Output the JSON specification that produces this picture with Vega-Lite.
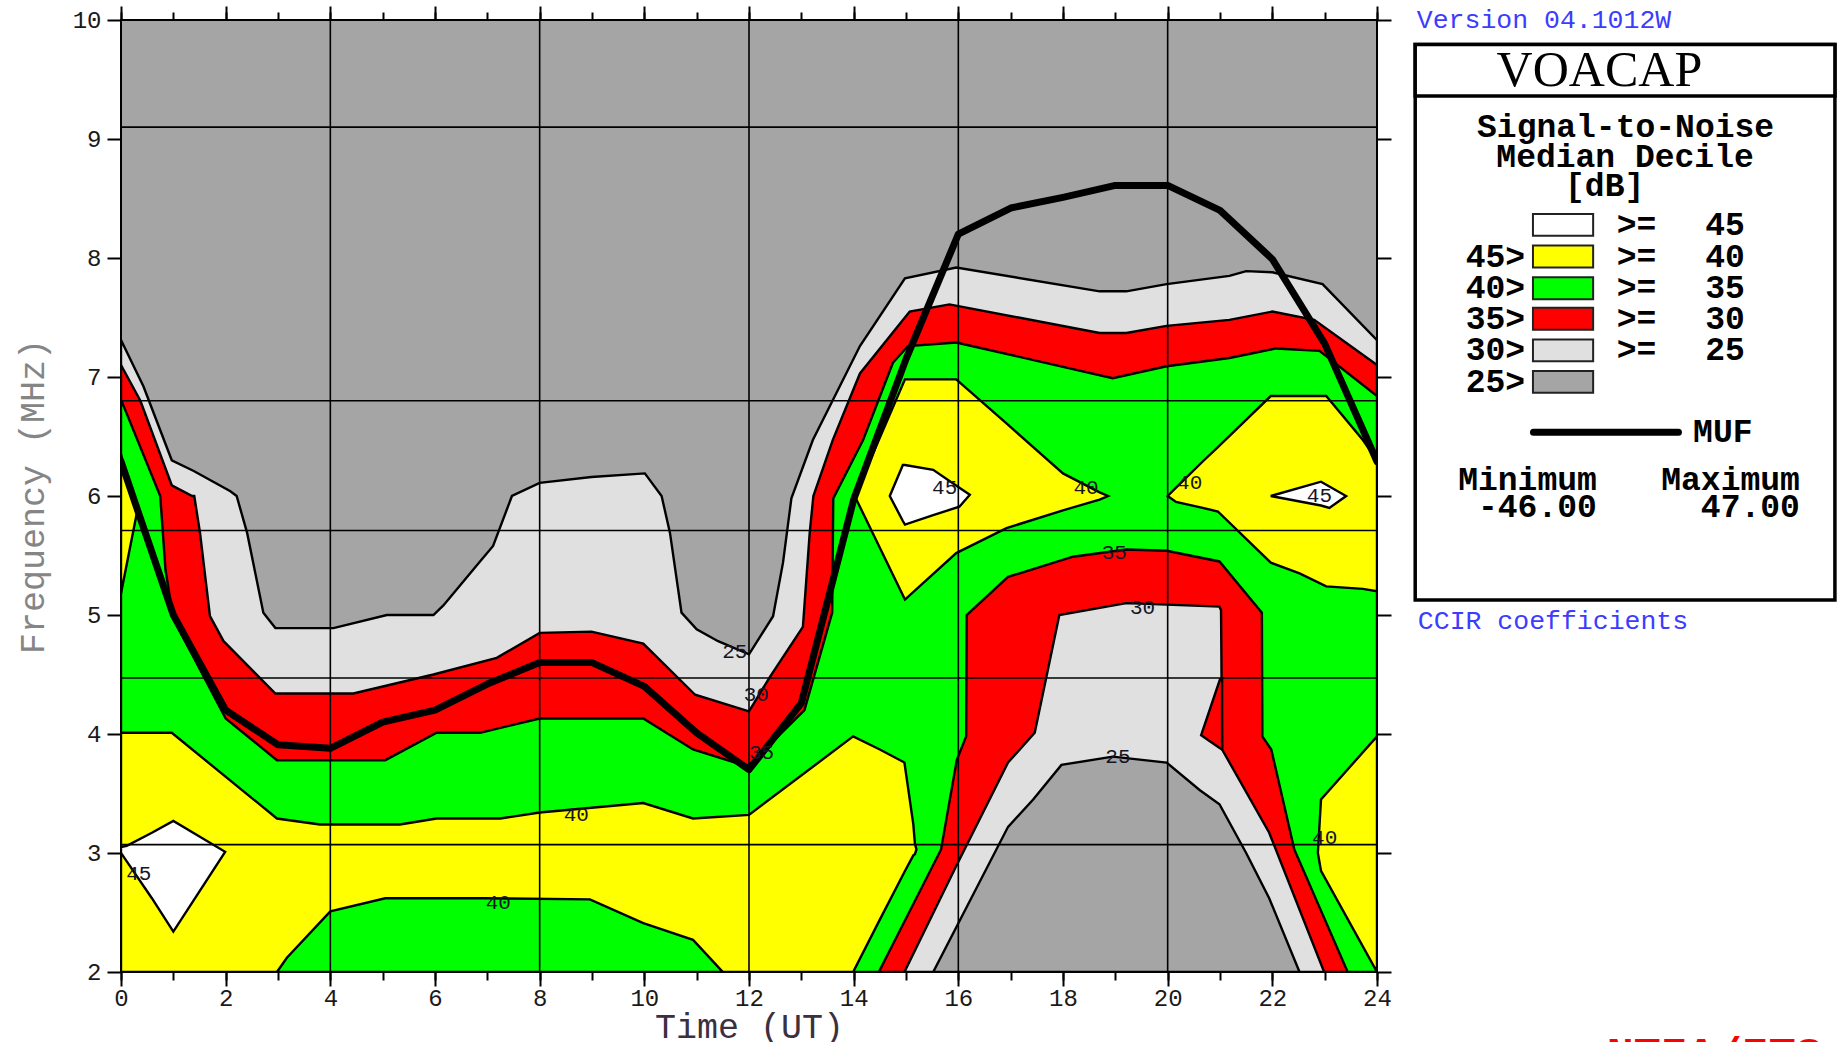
{
"$schema": "https://vega.github.io/schema/vega-lite/v6.json",
"width": 1256, "height": 952,
"autosize": {"type": "none"},
"padding": {"left": 121, "top": 20, "right": 460, "bottom": 70},
"background": "white",
"view": {"fill": "#a5a5a5", "stroke": "black", "strokeWidth": 2},
"config": {"axis": {"domain": false, "grid": false, "tickColor": "black", "tickWidth": 2, "labelFont": "Liberation Mono", "labelFontSize": 24, "labelColor": "#1a1a1a", "labelFlush": false, "labelOverlap": false, "titleFont": "Liberation Mono", "titleFontWeight": "normal"}},
"datasets": {
"areas": [
{"id":"c25","x":0,"lo":2,"hi":7.31},{"id":"c25","x":0.43,"lo":2,"hi":6.92},{"id":"c25","x":0.97,"lo":2,"hi":6.30},{"id":"c25","x":1.39,"lo":2,"hi":6.21},{"id":"c25","x":2.09,"lo":2,"hi":6.04},{"id":"c25","x":2.21,"lo":2,"hi":6.0},{"id":"c25","x":2.41,"lo":2,"hi":5.69},{"id":"c25","x":2.72,"lo":2,"hi":5.02},{"id":"c25","x":2.95,"lo":2,"hi":4.89},{"id":"c25","x":4.06,"lo":2,"hi":4.89},{"id":"c25","x":5.08,"lo":2,"hi":5.0},{"id":"c25","x":5.97,"lo":2,"hi":5.0},{"id":"c25","x":6.16,"lo":2,"hi":5.08},{"id":"c25","x":6.86,"lo":2,"hi":5.45},{"id":"c25","x":7.11,"lo":2,"hi":5.58},{"id":"c25","x":7.47,"lo":2,"hi":6.0},{"id":"c25","x":8.0,"lo":2,"hi":6.11},{"id":"c25","x":8.99,"lo":2,"hi":6.16},{"id":"c25","x":10.01,"lo":2,"hi":6.19},{"id":"c25","x":10.33,"lo":2,"hi":6.0},{"id":"c25","x":10.49,"lo":2,"hi":5.69},{"id":"c25","x":10.71,"lo":2,"hi":5.02},{"id":"c25","x":11.0,"lo":2,"hi":4.88},{"id":"c25","x":11.41,"lo":2,"hi":4.78},{"id":"c25","x":12.0,"lo":2,"hi":4.67},{"id":"c25","x":12.46,"lo":2,"hi":4.99},{"id":"c25","x":12.65,"lo":2,"hi":5.44},{"id":"c25","x":12.81,"lo":2,"hi":5.98},{"id":"c25","x":13.22,"lo":2,"hi":6.47},{"id":"c25","x":14.12,"lo":2,"hi":7.26},{"id":"c25","x":14.98,"lo":2,"hi":7.83},{"id":"c25","x":15.96,"lo":2,"hi":7.92},{"id":"c25","x":18.7,"lo":2,"hi":7.72},{"id":"c25","x":19.21,"lo":2,"hi":7.72},{"id":"c25","x":19.98,"lo":2,"hi":7.78},{"id":"c25","x":21.18,"lo":2,"hi":7.85},{"id":"c25","x":21.5,"lo":2,"hi":7.89},{"id":"c25","x":22.0,"lo":2,"hi":7.88},{"id":"c25","x":22.96,"lo":2,"hi":7.78},{"id":"c25","x":24,"lo":2,"hi":7.31},
{"id":"c30","x":0,"lo":2,"hi":7.10},{"id":"c30","x":0.37,"lo":2,"hi":6.8},{"id":"c30","x":0.97,"lo":2,"hi":6.09},{"id":"c30","x":1.36,"lo":2,"hi":6.0},{"id":"c30","x":1.40,"lo":2,"hi":6.0},{"id":"c30","x":1.51,"lo":2,"hi":5.69},{"id":"c30","x":1.70,"lo":2,"hi":4.99},{"id":"c30","x":1.96,"lo":2,"hi":4.78},{"id":"c30","x":2.95,"lo":2,"hi":4.34},{"id":"c30","x":4.44,"lo":2,"hi":4.34},{"id":"c30","x":5.97,"lo":2,"hi":4.50},{"id":"c30","x":7.18,"lo":2,"hi":4.64},{"id":"c30","x":8.0,"lo":2,"hi":4.85},{"id":"c30","x":8.99,"lo":2,"hi":4.86},{"id":"c30","x":9.98,"lo":2,"hi":4.76},{"id":"c30","x":10.97,"lo":2,"hi":4.33},{"id":"c30","x":12.0,"lo":2,"hi":4.19},{"id":"c30","x":12.40,"lo":2,"hi":4.48},{"id":"c30","x":13.03,"lo":2,"hi":4.90},{"id":"c30","x":13.16,"lo":2,"hi":5.69},{"id":"c30","x":13.23,"lo":2,"hi":6.0},{"id":"c30","x":13.6,"lo":2,"hi":6.47},{"id":"c30","x":14.12,"lo":2,"hi":7.03},{"id":"c30","x":15.07,"lo":2,"hi":7.55},{"id":"c30","x":15.83,"lo":2,"hi":7.61},{"id":"c30","x":18.7,"lo":2,"hi":7.37},{"id":"c30","x":19.21,"lo":2,"hi":7.37},{"id":"c30","x":19.98,"lo":2,"hi":7.43},{"id":"c30","x":21.18,"lo":2,"hi":7.48},{"id":"c30","x":22.0,"lo":2,"hi":7.55},{"id":"c30","x":22.8,"lo":2,"hi":7.48},{"id":"c30","x":24,"lo":2,"hi":7.10},
{"id":"c35","x":0,"lo":2,"hi":6.81},{"id":"c35","x":0.75,"lo":2,"hi":6.0},{"id":"c35","x":0.85,"lo":2,"hi":5.38},{"id":"c35","x":1.0,"lo":2,"hi":4.97},{"id":"c35","x":2.0,"lo":2,"hi":4.13},{"id":"c35","x":2.98,"lo":2,"hi":3.78},{"id":"c35","x":5.05,"lo":2,"hi":3.78},{"id":"c35","x":6.03,"lo":2,"hi":4.01},{"id":"c35","x":6.86,"lo":2,"hi":4.01},{"id":"c35","x":8.0,"lo":2,"hi":4.13},{"id":"c35","x":9.98,"lo":2,"hi":4.13},{"id":"c35","x":10.93,"lo":2,"hi":3.87},{"id":"c35","x":11.95,"lo":2,"hi":3.73},{"id":"c35","x":12.05,"lo":2,"hi":3.76},{"id":"c35","x":13.06,"lo":2,"hi":4.2},{"id":"c35","x":13.59,"lo":2,"hi":5.02},{"id":"c35","x":13.61,"lo":2,"hi":5.98},{"id":"c35","x":14.18,"lo":2,"hi":6.47},{"id":"c35","x":14.75,"lo":2,"hi":7.12},{"id":"c35","x":15.04,"lo":2,"hi":7.26},{"id":"c35","x":15.96,"lo":2,"hi":7.29},{"id":"c35","x":18.95,"lo":2,"hi":6.99},{"id":"c35","x":19.98,"lo":2,"hi":7.09},{"id":"c35","x":21.18,"lo":2,"hi":7.16},{"id":"c35","x":22.07,"lo":2,"hi":7.24},{"id":"c35","x":22.9,"lo":2,"hi":7.22},{"id":"c35","x":24,"lo":2,"hi":6.84},
{"id":"ytri","x":0,"lo":5.18,"hi":6.35},{"id":"ytri","x":0.3,"lo":5.85,"hi":5.85},
{"id":"yleft","x":0,"lo":2,"hi":4.01},{"id":"yleft","x":0.97,"lo":2,"hi":4.01},{"id":"yleft","x":2.98,"lo":2,"hi":3.29},{"id":"yleft","x":3.80,"lo":2,"hi":3.24},{"id":"yleft","x":5.33,"lo":2,"hi":3.24},{"id":"yleft","x":6.03,"lo":2,"hi":3.29},{"id":"yleft","x":7.25,"lo":2,"hi":3.29},{"id":"yleft","x":8.0,"lo":2,"hi":3.34},{"id":"yleft","x":9.98,"lo":2,"hi":3.42},{"id":"yleft","x":10.93,"lo":2,"hi":3.29},{"id":"yleft","x":12.0,"lo":2,"hi":3.32},{"id":"yleft","x":13.99,"lo":2,"hi":3.98},{"id":"yleft","x":14.5,"lo":2.44,"hi":3.87},{"id":"yleft","x":14.97,"lo":2.84,"hi":3.76},{"id":"yleft","x":15.14,"lo":2.98,"hi":3.24},{"id":"yleft","x":15.17,"lo":2.99,"hi":3.08},{"id":"yleft","x":15.2,"lo":3.03,"hi":3.03},
{"id":"ylobe1","x":14.02,"lo":6.0,"hi":6.0},{"id":"ylobe1","x":14.98,"lo":5.13,"hi":6.98},{"id":"ylobe1","x":15.96,"lo":5.52,"hi":6.98},{"id":"ylobe1","x":16.92,"lo":5.73,"hi":6.61},{"id":"ylobe1","x":18.0,"lo":5.88,"hi":6.19},{"id":"ylobe1","x":18.7,"lo":5.97,"hi":6.03},{"id":"ylobe1","x":18.86,"lo":6.0,"hi":6.0},
{"id":"ylobe2","x":20.0,"lo":6.0,"hi":6.0},{"id":"ylobe2","x":20.16,"lo":5.95,"hi":6.07},{"id":"ylobe2","x":20.67,"lo":5.90,"hi":6.29},{"id":"ylobe2","x":20.96,"lo":5.87,"hi":6.41},{"id":"ylobe2","x":21.97,"lo":5.44,"hi":6.84},{"id":"ylobe2","x":22.52,"lo":5.35,"hi":6.84},{"id":"ylobe2","x":23.03,"lo":5.24,"hi":6.84},{"id":"ylobe2","x":23.73,"lo":5.22,"hi":6.47},{"id":"ylobe2","x":24,"lo":5.2,"hi":6.3},
{"id":"yrb","x":22.87,"lo":3.0,"hi":3.0},{"id":"yrb","x":22.93,"lo":2.85,"hi":3.45},{"id":"yrb","x":24,"lo":2.0,"hi":3.98},
{"id":"gbot","x":2.98,"lo":2,"hi":2.0},{"id":"gbot","x":3.17,"lo":2,"hi":2.12},{"id":"gbot","x":4.0,"lo":2,"hi":2.51},{"id":"gbot","x":5.05,"lo":2,"hi":2.62},{"id":"gbot","x":6.92,"lo":2,"hi":2.62},{"id":"gbot","x":8.96,"lo":2,"hi":2.61},{"id":"gbot","x":9.98,"lo":2,"hi":2.41},{"id":"gbot","x":10.93,"lo":2,"hi":2.27},{"id":"gbot","x":11.5,"lo":2,"hi":2.0},
{"id":"wleft","x":0,"lo":3.0,"hi":3.05},{"id":"wleft","x":0.11,"lo":2.93,"hi":3.06},{"id":"wleft","x":0.59,"lo":2.62,"hi":3.17},{"id":"wleft","x":1.0,"lo":2.34,"hi":3.27},{"id":"wleft","x":1.99,"lo":3.01,"hi":3.01},
{"id":"w1","x":14.69,"lo":6.0,"hi":6.0},{"id":"w1","x":14.94,"lo":5.79,"hi":6.26},{"id":"w1","x":14.98,"lo":5.76,"hi":6.26},{"id":"w1","x":15.52,"lo":5.84,"hi":6.22},{"id":"w1","x":16.02,"lo":5.91,"hi":6.07},{"id":"w1","x":16.22,"lo":6.01,"hi":6.01},
{"id":"w2","x":21.97,"lo":6.0,"hi":6.0},{"id":"w2","x":22.93,"lo":5.92,"hi":6.12},{"id":"w2","x":23.09,"lo":5.90,"hi":6.08},{"id":"w2","x":23.41,"lo":6.0,"hi":6.0},
{"id":"hred","x":14.48,"lo":2,"hi":2.0},{"id":"hred","x":15.67,"lo":2,"hi":3.03},{"id":"hred","x":15.97,"lo":2,"hi":3.78},{"id":"hred","x":16.15,"lo":2,"hi":3.98},{"id":"hred","x":16.16,"lo":2,"hi":5.0},{"id":"hred","x":16.95,"lo":2,"hi":5.32},{"id":"hred","x":18.19,"lo":2,"hi":5.49},{"id":"hred","x":19.21,"lo":2,"hi":5.55},{"id":"hred","x":19.98,"lo":2,"hi":5.54},{"id":"hred","x":20.99,"lo":2,"hi":5.45},{"id":"hred","x":21.80,"lo":2,"hi":5.02},{"id":"hred","x":21.81,"lo":2,"hi":3.98},{"id":"hred","x":21.98,"lo":2,"hi":3.87},{"id":"hred","x":22.42,"lo":2,"hi":3.03},{"id":"hred","x":23.44,"lo":2,"hi":2.0},
{"id":"hlg","x":14.97,"lo":2,"hi":2.0},{"id":"hlg","x":15.96,"lo":2,"hi":2.89},{"id":"hlg","x":16.95,"lo":2,"hi":3.76},{"id":"hlg","x":17.46,"lo":2,"hi":4.01},{"id":"hlg","x":17.93,"lo":2,"hi":5.0},{"id":"hlg","x":19.21,"lo":2,"hi":5.10},{"id":"hlg","x":20.99,"lo":2,"hi":5.07},{"id":"hlg","x":21.02,"lo":2,"hi":5.04},{"id":"hlg","x":21.03,"lo":2,"hi":4.46},{"id":"hlg","x":21.04,"lo":2,"hi":3.87},{"id":"hlg","x":21.94,"lo":2,"hi":3.17},{"id":"hlg","x":22.99,"lo":2,"hi":2.0},
{"id":"hnotch","x":20.64,"lo":3.99,"hi":3.99},{"id":"hnotch","x":21.0,"lo":3.88,"hi":4.46},{"id":"hnotch","x":21.04,"lo":3.87,"hi":4.46},
{"id":"hgrey","x":15.52,"lo":2,"hi":2.0},{"id":"hgrey","x":16.95,"lo":2,"hi":3.22},{"id":"hgrey","x":17.43,"lo":2,"hi":3.45},{"id":"hgrey","x":17.97,"lo":2,"hi":3.74},{"id":"hgrey","x":18.95,"lo":2,"hi":3.81},{"id":"hgrey","x":19.98,"lo":2,"hi":3.76},{"id":"hgrey","x":20.61,"lo":2,"hi":3.53},{"id":"hgrey","x":20.99,"lo":2,"hi":3.41},{"id":"hgrey","x":21.5,"lo":2,"hi":3.0},{"id":"hgrey","x":21.94,"lo":2,"hi":2.62},{"id":"hgrey","x":22.52,"lo":2,"hi":2.0}
],
"muf": [
{"x":0,"f":6.29},{"x":1,"f":5.0},{"x":2,"f":4.2},{"x":3,"f":3.91},{"x":4,"f":3.88},{"x":5,"f":4.1},{"x":6,"f":4.2},{"x":7,"f":4.42},{"x":8,"f":4.6},{"x":9,"f":4.6},{"x":10,"f":4.4},{"x":11,"f":4.01},{"x":12,"f":3.7},{"x":13,"f":4.26},{"x":14,"f":5.97},{"x":15,"f":7.15},{"x":16,"f":8.2},{"x":17,"f":8.42},{"x":18,"f":8.51},{"x":19,"f":8.61},{"x":20,"f":8.61},{"x":21,"f":8.4},{"x":22,"f":7.99},{"x":23,"f":7.28},{"x":24,"f":6.29}
],
"vgrid": [{"g":4},{"g":8},{"g":12},{"g":16},{"g":20}],
"hgrid": [{"g":9.1},{"g":6.8},{"g":5.71},{"g":4.47},{"g":3.07}],
"clab": [
{"x":11.73,"f":4.69,"t":"25"},{"x":12.14,"f":4.33,"t":"30"},{"x":12.24,"f":3.84,"t":"35"},{"x":8.7,"f":3.32,"t":"40"},{"x":7.21,"f":2.58,"t":"40"},{"x":0.34,"f":2.82,"t":"45"},{"x":15.74,"f":6.07,"t":"45"},{"x":18.44,"f":6.07,"t":"40"},{"x":20.42,"f":6.11,"t":"40"},{"x":22.9,"f":6.0,"t":"45"},{"x":18.98,"f":5.52,"t":"35"},{"x":19.52,"f":5.06,"t":"30"},{"x":19.05,"f":3.81,"t":"25"},{"x":23.0,"f":3.13,"t":"40"}
],
"lbox": [
{"x1":24.73,"x2":32.75,"y1":9.794,"y2":5.126},
{"x1":24.73,"x2":32.75,"y1":9.794,"y2":9.361}
],
"lsw": [
{"level":"45","y1":8.370,"y2":8.186},{"level":"40","y1":8.104,"y2":7.920},{"level":"35","y1":7.838,"y2":7.654},{"level":"30","y1":7.582,"y2":7.398},{"level":"25","y1":7.316,"y2":7.132},{"level":"<25","y1":7.051,"y2":6.867}
],
"lmuf": [{"x1":26.99,"x2":29.76,"y":6.535}],
"ltext": [
{"kind":"version","t":"Version 04.1012W","x":24.76,"y":10.0},
{"kind":"ccir","t":"CCIR coefficients","x":24.78,"y":4.95},
{"kind":"voacap","t":"VOACAP","x":28.25,"y":9.57},
{"kind":"head","t":"Signal-to-Noise","x":28.75,"y":9.105},
{"kind":"head","t":"Median Decile","x":28.74,"y":8.849},
{"kind":"head","t":"[dB]","x":28.35,"y":8.603},
{"kind":"right","t":"45>","x":26.83,"y":8.012},
{"kind":"right","t":"40>","x":26.83,"y":7.746},
{"kind":"right","t":"35>","x":26.83,"y":7.490},
{"kind":"right","t":"30>","x":26.83,"y":7.224},
{"kind":"right","t":"25>","x":26.83,"y":6.959},
{"kind":"left","t":">=","x":28.58,"y":8.278},
{"kind":"left","t":">=","x":28.58,"y":8.012},
{"kind":"left","t":">=","x":28.58,"y":7.746},
{"kind":"left","t":">=","x":28.58,"y":7.490},
{"kind":"left","t":">=","x":28.58,"y":7.224},
{"kind":"right","t":"45","x":31.03,"y":8.278},
{"kind":"right","t":"40","x":31.03,"y":8.012},
{"kind":"right","t":"35","x":31.03,"y":7.746},
{"kind":"right","t":"30","x":31.03,"y":7.490},
{"kind":"right","t":"25","x":31.03,"y":7.224},
{"kind":"left","t":"MUF","x":30.04,"y":6.535},
{"kind":"right","t":"Minimum","x":28.2,"y":6.131},
{"kind":"right","t":"-46.00","x":28.2,"y":5.905},
{"kind":"right","t":"Maximum","x":32.08,"y":6.131},
{"kind":"right","t":"47.00","x":32.08,"y":5.905},
{"kind":"ntia","t":"NTIA/ITS","x":28.39,"y":1.5}
]
},
"resolve": {"axis": {"x": "independent", "y": "independent"}},
"layer": [
{"data": {"name": "areas"}, "transform": [{"filter": "datum.id === 'c25'"}],
 "mark": {"type": "area", "fill": "#e0e0e0", "stroke": "black", "strokeWidth": 2.4, "clip": true},
 "encoding": {
  "x": {"field": "x", "type": "quantitative", "scale": {"domain": [0, 24], "nice": false, "zero": false},
        "axis": {"orient": "bottom", "values": [0,2,4,6,8,10,12,14,16,18,20,22,24], "tickSize": 14, "labelPadding": 0, "title": "Time (UT)", "titleFontSize": 35, "titleColor": "#3a3040", "titlePadding": -1}},
  "y": {"field": "hi", "type": "quantitative", "scale": {"domain": [2, 10], "nice": false, "zero": false},
        "axis": {"orient": "left", "values": [2,3,4,5,6,7,8,9,10], "tickSize": 14, "labelPadding": 6, "title": "Frequency (MHz)", "titleFontSize": 35, "titleColor": "#858585", "titlePadding": 22}},
  "y2": {"field": "lo"}}},
{"data": {"name": "areas"}, "transform": [{"filter": "datum.id === 'c30'"}],
 "mark": {"type": "area", "fill": "#ff0000", "stroke": "black", "strokeWidth": 2.4, "clip": true},
 "encoding": {
  "x": {"field": "x", "type": "quantitative", "scale": {"domain": [0, 24], "nice": false, "zero": false},
        "axis": {"orient": "bottom", "values": [0,1,2,3,4,5,6,7,8,9,10,11,12,13,14,15,16,17,18,19,20,21,22,23,24], "tickSize": 8, "labels": false, "title": null}},
  "y": {"field": "hi", "type": "quantitative", "scale": {"domain": [2, 10], "nice": false, "zero": false},
        "axis": {"orient": "right", "values": [2,3,4,5,6,7,8,9,10], "tickSize": 14, "labels": false, "title": null}},
  "y2": {"field": "lo"}}},
{"data": {"name": "areas"}, "transform": [{"filter": "datum.id === 'c35'"}],
 "mark": {"type": "area", "fill": "#00ff00", "stroke": "black", "strokeWidth": 2.4, "clip": true},
 "encoding": {
  "x": {"field": "x", "type": "quantitative", "scale": {"domain": [0, 24], "nice": false, "zero": false},
        "axis": {"orient": "top", "values": [0,2,4,6,8,10,12,14,16,18,20,22,24], "tickSize": 14, "labels": false, "title": null}},
  "y": {"field": "hi", "type": "quantitative", "scale": {"domain": [2, 10], "nice": false, "zero": false}, "axis": null},
  "y2": {"field": "lo"}}},
{"data": {"name": "areas"}, "transform": [{"filter": "indexof(['ytri','yleft','ylobe1','ylobe2','yrb'], datum.id) >= 0"}],
 "mark": {"type": "area", "fill": "#ffff00", "stroke": "black", "strokeWidth": 2.4, "clip": true},
 "encoding": {
  "x": {"field": "x", "type": "quantitative", "scale": {"domain": [0, 24], "nice": false, "zero": false},
        "axis": {"orient": "top", "values": [0,1,2,3,4,5,6,7,8,9,10,11,12,13,14,15,16,17,18,19,20,21,22,23,24], "tickSize": 8, "labels": false, "title": null}},
  "y": {"field": "hi", "type": "quantitative", "scale": {"domain": [2, 10], "nice": false, "zero": false}, "axis": null},
  "y2": {"field": "lo"}, "detail": {"field": "id"}}},
{"data": {"name": "areas"}, "transform": [{"filter": "datum.id === 'gbot'"}],
 "mark": {"type": "area", "fill": "#00ff00", "stroke": "black", "strokeWidth": 2.4, "clip": true},
 "encoding": {
  "x": {"field": "x", "type": "quantitative", "scale": {"domain": [0, 24], "nice": false, "zero": false}, "axis": null},
  "y": {"field": "hi", "type": "quantitative", "scale": {"domain": [2, 10], "nice": false, "zero": false}, "axis": null},
  "y2": {"field": "lo"}}},
{"data": {"name": "areas"}, "transform": [{"filter": "indexof(['wleft','w1','w2'], datum.id) >= 0"}],
 "mark": {"type": "area", "fill": "#ffffff", "stroke": "black", "strokeWidth": 2.4, "clip": true},
 "encoding": {
  "x": {"field": "x", "type": "quantitative", "scale": {"domain": [0, 24], "nice": false, "zero": false}, "axis": null},
  "y": {"field": "hi", "type": "quantitative", "scale": {"domain": [2, 10], "nice": false, "zero": false}, "axis": null},
  "y2": {"field": "lo"}, "detail": {"field": "id"}}},
{"data": {"name": "areas"}, "transform": [{"filter": "datum.id === 'hred'"}],
 "mark": {"type": "area", "fill": "#ff0000", "stroke": "black", "strokeWidth": 2.4, "clip": true},
 "encoding": {
  "x": {"field": "x", "type": "quantitative", "scale": {"domain": [0, 24], "nice": false, "zero": false}, "axis": null},
  "y": {"field": "hi", "type": "quantitative", "scale": {"domain": [2, 10], "nice": false, "zero": false}, "axis": null},
  "y2": {"field": "lo"}}},
{"data": {"name": "areas"}, "transform": [{"filter": "datum.id === 'hlg'"}],
 "mark": {"type": "area", "fill": "#e0e0e0", "stroke": "black", "strokeWidth": 2.4, "clip": true},
 "encoding": {
  "x": {"field": "x", "type": "quantitative", "scale": {"domain": [0, 24], "nice": false, "zero": false}, "axis": null},
  "y": {"field": "hi", "type": "quantitative", "scale": {"domain": [2, 10], "nice": false, "zero": false}, "axis": null},
  "y2": {"field": "lo"}}},
{"data": {"name": "areas"}, "transform": [{"filter": "datum.id === 'hnotch'"}],
 "mark": {"type": "area", "fill": "#ff0000", "stroke": "black", "strokeWidth": 2.4, "clip": true},
 "encoding": {
  "x": {"field": "x", "type": "quantitative", "scale": {"domain": [0, 24], "nice": false, "zero": false}, "axis": null},
  "y": {"field": "hi", "type": "quantitative", "scale": {"domain": [2, 10], "nice": false, "zero": false}, "axis": null},
  "y2": {"field": "lo"}}},
{"data": {"name": "areas"}, "transform": [{"filter": "datum.id === 'hgrey'"}],
 "mark": {"type": "area", "fill": "#a5a5a5", "stroke": "black", "strokeWidth": 2.4, "clip": true},
 "encoding": {
  "x": {"field": "x", "type": "quantitative", "scale": {"domain": [0, 24], "nice": false, "zero": false}, "axis": null},
  "y": {"field": "hi", "type": "quantitative", "scale": {"domain": [2, 10], "nice": false, "zero": false}, "axis": null},
  "y2": {"field": "lo"}}},
{"data": {"name": "vgrid"},
 "mark": {"type": "rule", "color": "black", "strokeWidth": 1.6},
 "encoding": {"x": {"field": "g", "type": "quantitative", "scale": {"domain": [0, 24], "nice": false, "zero": false}, "axis": null}}},
{"data": {"name": "hgrid"},
 "mark": {"type": "rule", "color": "black", "strokeWidth": 1.6},
 "encoding": {"y": {"field": "g", "type": "quantitative", "scale": {"domain": [2, 10], "nice": false, "zero": false}, "axis": null}}},
{"data": {"name": "muf"},
 "mark": {"type": "line", "color": "black", "strokeWidth": 7, "strokeJoin": "round", "strokeCap": "round", "clip": true},
 "encoding": {
  "x": {"field": "x", "type": "quantitative", "scale": {"domain": [0, 24], "nice": false, "zero": false}, "axis": null},
  "y": {"field": "f", "type": "quantitative", "scale": {"domain": [2, 10], "nice": false, "zero": false}, "axis": null}}},
{"data": {"name": "clab"},
 "mark": {"type": "text", "font": "Liberation Mono", "fontSize": 21, "color": "#151525", "align": "center", "baseline": "middle"},
 "encoding": {
  "x": {"field": "x", "type": "quantitative", "scale": {"domain": [0, 24], "nice": false, "zero": false}, "axis": null},
  "y": {"field": "f", "type": "quantitative", "scale": {"domain": [2, 10], "nice": false, "zero": false}, "axis": null},
  "text": {"field": "t"}}},
{"data": {"name": "lbox"},
 "mark": {"type": "rect", "fill": "white", "stroke": "black", "strokeWidth": 3.5},
 "encoding": {
  "x": {"field": "x1", "type": "quantitative", "scale": {"domain": [0, 24], "nice": false, "zero": false}, "axis": null},
  "x2": {"field": "x2"},
  "y": {"field": "y1", "type": "quantitative", "scale": {"domain": [2, 10], "nice": false, "zero": false}, "axis": null},
  "y2": {"field": "y2"}}},
{"data": {"name": "lsw"},
 "mark": {"type": "rect", "stroke": "#222", "strokeWidth": 2},
 "encoding": {
  "x": {"datum": 26.98, "type": "quantitative", "scale": {"domain": [0, 24], "nice": false, "zero": false}, "axis": null},
  "x2": {"datum": 28.13},
  "y": {"field": "y1", "type": "quantitative", "scale": {"domain": [2, 10], "nice": false, "zero": false}, "axis": null},
  "y2": {"field": "y2"},
  "fill": {"field": "level", "type": "nominal", "scale": {"domain": ["45","40","35","30","25","<25"], "range": ["#ffffff","#ffff00","#00ff00","#ff0000","#e0e0e0","#a5a5a5"]}, "legend": null}}},
{"data": {"name": "lmuf"},
 "mark": {"type": "rule", "color": "black", "strokeWidth": 7, "strokeCap": "round"},
 "encoding": {
  "x": {"field": "x1", "type": "quantitative", "scale": {"domain": [0, 24], "nice": false, "zero": false}, "axis": null},
  "x2": {"field": "x2"},
  "y": {"field": "y", "type": "quantitative", "scale": {"domain": [2, 10], "nice": false, "zero": false}, "axis": null}}},
{"data": {"name": "ltext"}, "transform": [{"filter": "datum.kind === 'version' || datum.kind === 'ccir'"}],
 "mark": {"type": "text", "font": "Liberation Mono", "fontSize": 26.5, "color": "#3c3cff", "align": "left", "baseline": "middle"},
 "encoding": {
  "x": {"field": "x", "type": "quantitative", "scale": {"domain": [0, 24], "nice": false, "zero": false}, "axis": null},
  "y": {"field": "y", "type": "quantitative", "scale": {"domain": [2, 10], "nice": false, "zero": false}, "axis": null},
  "text": {"field": "t"}}},
{"data": {"name": "ltext"}, "transform": [{"filter": "datum.kind === 'voacap'"}],
 "mark": {"type": "text", "font": "Liberation Serif", "fontSize": 50, "color": "black", "align": "center", "baseline": "middle"},
 "encoding": {
  "x": {"field": "x", "type": "quantitative", "scale": {"domain": [0, 24], "nice": false, "zero": false}, "axis": null},
  "y": {"field": "y", "type": "quantitative", "scale": {"domain": [2, 10], "nice": false, "zero": false}, "axis": null},
  "text": {"field": "t"}}},
{"data": {"name": "ltext"}, "transform": [{"filter": "datum.kind === 'head'"}],
 "mark": {"type": "text", "font": "Liberation Mono", "fontSize": 33, "fontWeight": "bold", "color": "black", "align": "center", "baseline": "middle"},
 "encoding": {
  "x": {"field": "x", "type": "quantitative", "scale": {"domain": [0, 24], "nice": false, "zero": false}, "axis": null},
  "y": {"field": "y", "type": "quantitative", "scale": {"domain": [2, 10], "nice": false, "zero": false}, "axis": null},
  "text": {"field": "t"}}},
{"data": {"name": "ltext"}, "transform": [{"filter": "datum.kind === 'right'"}],
 "mark": {"type": "text", "font": "Liberation Mono", "fontSize": 33, "fontWeight": "bold", "color": "black", "align": "right", "baseline": "middle"},
 "encoding": {
  "x": {"field": "x", "type": "quantitative", "scale": {"domain": [0, 24], "nice": false, "zero": false}, "axis": null},
  "y": {"field": "y", "type": "quantitative", "scale": {"domain": [2, 10], "nice": false, "zero": false}, "axis": null},
  "text": {"field": "t"}}},
{"data": {"name": "ltext"}, "transform": [{"filter": "datum.kind === 'left'"}],
 "mark": {"type": "text", "font": "Liberation Mono", "fontSize": 33, "fontWeight": "bold", "color": "black", "align": "left", "baseline": "middle"},
 "encoding": {
  "x": {"field": "x", "type": "quantitative", "scale": {"domain": [0, 24], "nice": false, "zero": false}, "axis": null},
  "y": {"field": "y", "type": "quantitative", "scale": {"domain": [2, 10], "nice": false, "zero": false}, "axis": null},
  "text": {"field": "t"}}},
{"data": {"name": "ltext"}, "transform": [{"filter": "datum.kind === 'ntia'"}],
 "mark": {"type": "text", "font": "Liberation Mono", "fontSize": 45, "fontWeight": "bold", "color": "#ff0000", "align": "left", "baseline": "top"},
 "encoding": {
  "x": {"field": "x", "type": "quantitative", "scale": {"domain": [0, 24], "nice": false, "zero": false}, "axis": null},
  "y": {"field": "y", "type": "quantitative", "scale": {"domain": [2, 10], "nice": false, "zero": false}, "axis": null},
  "text": {"field": "t"}}}
]
}
